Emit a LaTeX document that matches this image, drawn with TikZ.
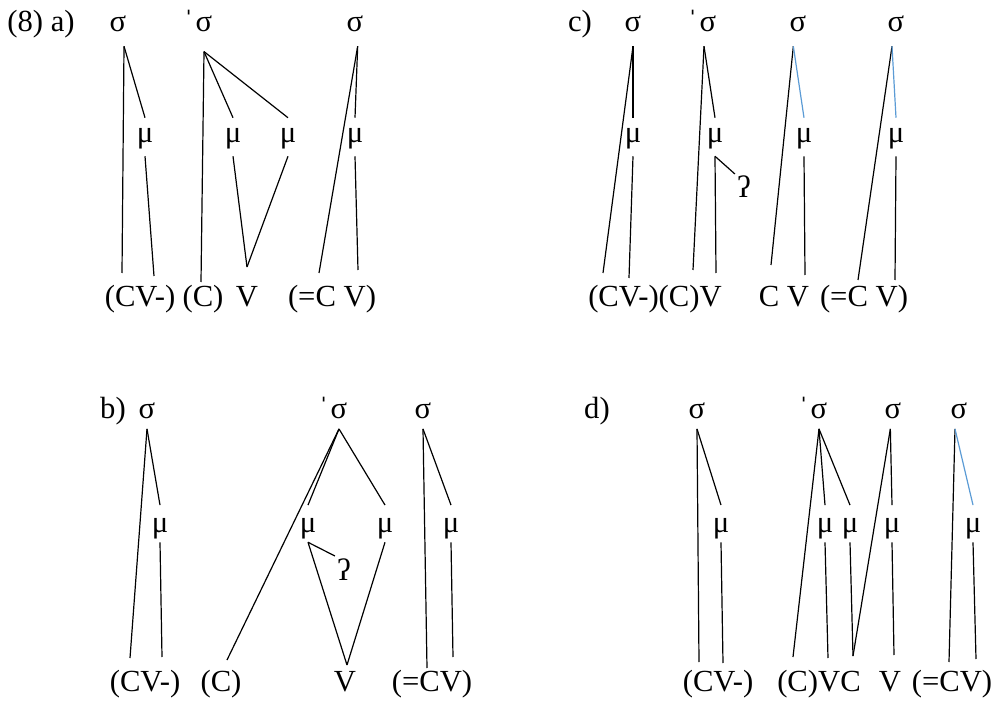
\documentclass[tikz,border=0pt]{standalone}
\usepackage{fontspec}
\setmainfont{Liberation Serif}
\usetikzlibrary{positioning}
\definecolor{linkblue}{HTML}{5B9BD5}
\tikzset{
  % text
  txt/.style={inner sep=0pt,anchor=base,font=\fontsize{23}{27}\selectfont},
  sy/.style={txt,text depth=10.5pt},
  mo/.style={txt,text height=18.75pt,text depth=9.75pt},
  gs/.style={txt,inner sep=1.5pt},
  low/.style={sy/.append style={text depth=8pt},
              mo/.append style={text height=20pt,text depth=7.5pt}},
  % links
  ln/.style={draw=black,line width=0.9pt},
  bl/.style={draw=linkblue,line width=0.9pt},
}
\newcommand{\strs}{\llap{ˈ\kern1.5pt}}

\begin{document}
\begin{tikzpicture}[x=0.75pt,y=-0.75pt]
  \useasboundingbox (0,0) rectangle (996,702);
  % (a)
  \node[txt] (la) at (41,32) {(8) a)};
  \node[sy] (a1) at (118,32) {σ};
  \node[sy] (a2) at (204,32) {\strs σ};
  \node[sy] (a3) at (355,32) {σ};
  \node[mo] (am1) at (145,143) {μ};
  \node[mo] (am2) at (233,143) {μ};
  \node[mo] (am3) at (288,143) {μ};
  \node[mo] (am4) at (355,143) {μ};
  \node[txt] (aw1) at (140,306) {(CV-)};
  \node[txt] (aw2) at (203,306) {(C)};
  \node[txt] (aw3) at (247,306) {V};
  \node[txt] (aw4) at (332,306) {(=C V)};
  \coordinate (aC1) at (122,273);
  \coordinate (aV1) at (154,276);
  \coordinate (aC2) at (201,282);
  \coordinate (aV2) at (247,267);
  \coordinate (aC3) at (319,273);
  \coordinate (aV3) at (358,270);
  \draw[ln] ([xshift=4.5pt]a1.south) -- (aC1);
  \draw[ln] ([xshift=4.5pt]a1.south) -- (am1.north);
  \draw[ln] (am1.south) -- (aV1);
  \draw[ln] ([yshift=-4pt]a2.south) -- (aC2);
  \draw[ln] ([yshift=-4pt]a2.south) -- (am2.north);
  \draw[ln] ([yshift=-4pt]a2.south) -- (am3.north);
  \draw[ln] (am2.south) -- (aV2);
  \draw[ln] (am3.south) -- (aV2);
  \draw[ln] ([xshift=2pt]a3.south) -- (aC3);
  \draw[ln] ([xshift=2pt]a3.south) -- (am4.north);
  \draw[ln] (am4.south) -- (aV3);

  % (c)
  \node[txt] (lc) at (580,32) {c)};
  \node[sy] (c1) at (633,32) {σ};
  \node[sy] (c2) at (708,32) {\strs σ};
  \node[sy] (c3) at (798,32) {σ};
  \node[sy] (c4) at (896,32) {σ};
  \node[mo] (cm1) at (633,143) {μ};
  \node[mo] (cm2) at (715,143) {μ};
  \node[mo] (cm3) at (804,143) {μ};
  \node[mo] (cm4) at (896,143) {μ};
  \node[gs] (cq) at (744,198) {ʔ};
  \node[txt] (cw1) at (655,306) {(CV-)(C)V};
  \node[txt] (cw2) at (784,306) {C V};
  \node[txt] (cw3) at (864,306) {(=C V)};
  \coordinate (cC1) at (603,273);
  \coordinate (cV1) at (629,278);
  \coordinate (cC2) at (693,270);
  \coordinate (cV2) at (716,273);
  \coordinate (cC3) at (771,265);
  \coordinate (cV3) at (805,275);
  \coordinate (cC4) at (858,280);
  \coordinate (cV4) at (895,280);
  \draw[ln] (c1.south) -- (cC1);
  \draw[ln] (c1.south) -- (cm1.north);
  \draw[ln] (cm1.south) -- (cV1);
  \draw[ln] ([xshift=-3pt]c2.south) -- (cC2);
  \draw[ln] ([xshift=-3pt]c2.south) -- (cm2.north);
  \draw[ln] (cm2.south) -- (cV2);
  \draw[ln] (cm2.south) -- (cq.north west);
  \draw[ln] ([xshift=-3.5pt]c3.south) -- (cC3);
  \draw[bl] ([xshift=-3.5pt]c3.south) -- (cm3.north);
  \draw[ln] (cm3.south) -- (cV3);
  \draw[ln] ([xshift=-3pt]c4.south) -- (cC4);
  \draw[bl] ([xshift=-3pt]c4.south) -- (cm4.north);
  \draw[ln] (cm4.south) -- (cV4);

  \begin{scope}[low]
  % (b)
  \node[txt] (lb) at (113,418) {b)};
  \node[sy] (b1) at (147,418) {σ};
  \node[sy] (b2) at (339,418) {\strs σ};
  \node[sy] (b3) at (423,418) {σ};
  \node[mo] (bm1) at (160,532) {μ};
  \node[mo] (bm2) at (308,532) {μ};
  \node[mo] (bm3) at (385,532) {μ};
  \node[mo] (bm4) at (451,532) {μ};
  \node[gs] (bq) at (344,580) {ʔ};
  \node[txt] (bw1) at (145,691) {(CV-)};
  \node[txt] (bw2) at (221,691) {(C)};
  \node[txt] (bw3) at (345,691) {V};
  \node[txt] (bw4) at (432,691) {(=CV)};
  \coordinate (bC1) at (130,658);
  \coordinate (bV1) at (162,657);
  \coordinate (bC2) at (227,660);
  \coordinate (bV2) at (347,665);
  \coordinate (bC3) at (427,668);
  \coordinate (bV3) at (453,657);
  \draw[ln] (b1.south) -- (bC1);
  \draw[ln] (b1.south) -- (bm1.north);
  \draw[ln] (bm1.south) -- (bV1);
  \draw[ln] (b2.south) -- (bC2);
  \draw[ln] (b2.south) -- (bm2.north);
  \draw[ln] (b2.south) -- (bm3.north);
  \draw[ln] (bm2.south) -- (bq.north west);
  \draw[ln] (bm2.south) -- (bV2);
  \draw[ln] (bm3.south) -- (bV2);
  \draw[ln] (b3.south) -- (bC3);
  \draw[ln] (b3.south) -- (bm4.north);
  \draw[ln] (bm4.south) -- (bV3);

  % (d)
  \node[txt] (ld) at (597,418) {d)};
  \node[sy] (d1) at (697,418) {σ};
  \node[sy] (d2) at (819,418) {\strs σ};
  \node[sy] (d3) at (893,418) {σ};
  \node[sy] (d4) at (959,418) {σ};
  \node[mo] (dm1) at (721,532) {μ};
  \node[mo] (dm2) at (825,532) {μ};
  \node[mo] (dm3) at (850,532) {μ};
  \node[mo] (dm4) at (892,532) {μ};
  \node[mo] (dm5) at (973,532) {μ};
  \node[txt] (dw1) at (718,691) {(CV-)};
  \node[txt] (dw2) at (819,691) {(C)VC};
  \node[txt] (dw3) at (890,691) {V};
  \node[txt] (dw4) at (952,691) {(=CV)};
  \coordinate (dC1) at (699,662);
  \coordinate (dV1) at (723,663);
  \coordinate (dC2) at (793,657);
  \coordinate (dV2) at (828,658);
  \coordinate (dC3) at (853,656);
  \coordinate (dV3) at (894,655);
  \coordinate (dC4) at (949,662);
  \coordinate (dV4) at (976,659);
  \draw[ln] (d1.south) -- (dC1);
  \draw[ln] (d1.south) -- (dm1.north);
  \draw[ln] (dm1.south) -- (dV1);
  \draw[ln] (d2.south) -- (dC2);
  \draw[ln] (d2.south) -- (dm2.north);
  \draw[ln] (d2.south) -- (dm3.north);
  \draw[ln] (dm2.south) -- (dV2);
  \draw[ln] (dm3.south) -- (dC3);
  \draw[ln] ([xshift=-2pt]d3.south) -- (dC3);
  \draw[ln] ([xshift=-2pt]d3.south) -- (dm4.north);
  \draw[ln] (dm4.south) -- (dV3);
  \draw[ln] ([xshift=-3pt]d4.south) -- (dC4);
  \draw[bl] ([xshift=-3pt]d4.south) -- (dm5.north);
  \draw[ln] (dm5.south) -- (dV4);
  \end{scope}
\end{tikzpicture}
\end{document}
